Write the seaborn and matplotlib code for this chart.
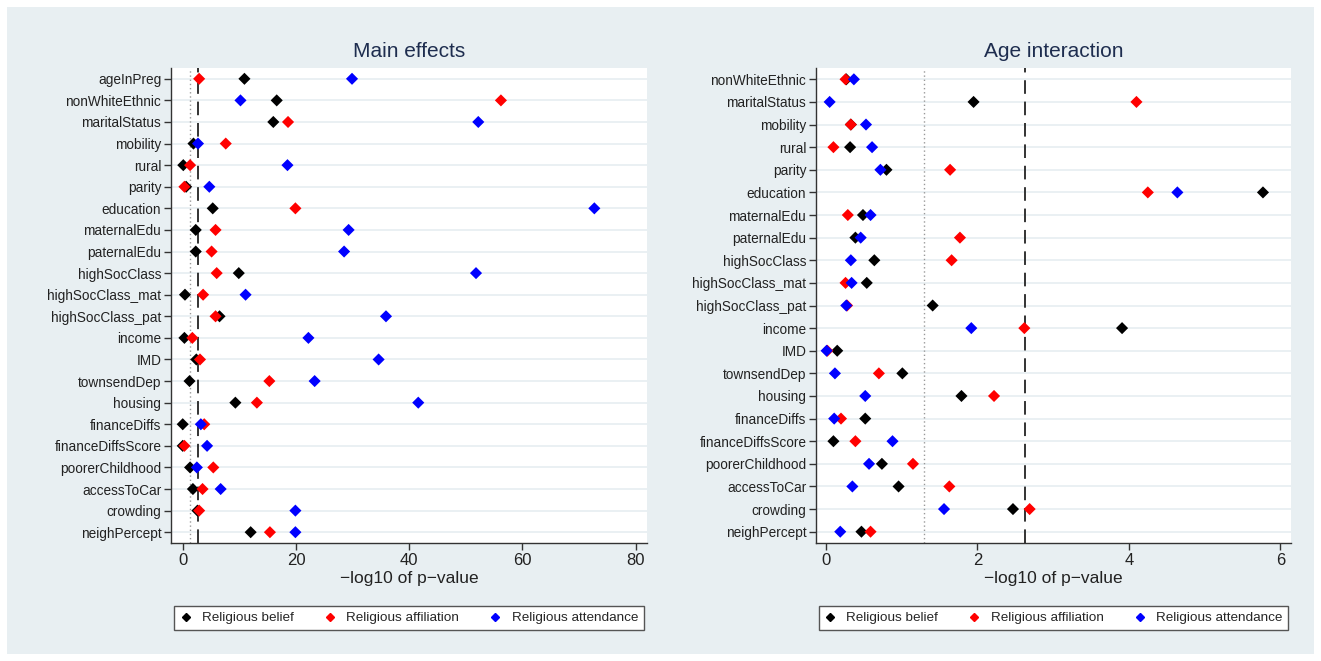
import numpy as np
import pandas as pd
import matplotlib
matplotlib.use("Agg")
import matplotlib.pyplot as plt
from matplotlib.lines import Line2D
from matplotlib.patches import Rectangle
import seaborn as sns

# ---------------- data ----------------
series_names = ["Religious belief", "Religious affiliation", "Religious attendance"]
series_colors = ["#000000", "#ff0000", "#0000ff"]

main_vars = ["ageInPreg", "nonWhiteEthnic", "maritalStatus", "mobility", "rural", "parity",
             "education", "maternalEdu", "paternalEdu", "highSocClass", "highSocClass_mat",
             "highSocClass_pat", "income", "IMD", "townsendDep", "housing", "financeDiffs",
             "financeDiffsScore", "poorerChildhood", "accessToCar", "crowding", "neighPercept"]
main_belief = [10.9, 16.6, 16.0, 1.9, 0.1, 0.6, 5.3, 2.3, 2.3, 9.9, 0.4, 6.5, 0.3, 2.4,
               1.2, 9.3, 0.0, 0.0, 1.3, 1.8, 2.6, 12.0]
main_affil = [2.9, 56.2, 18.6, 7.6, 1.3, 0.3, 19.9, 5.8, 5.1, 6.0, 3.6, 5.8, 1.7, 3.05,
              15.3, 13.1, 3.8, 0.3, 5.4, 3.5, 2.9, 15.4]
main_attend = [29.9, 10.2, 52.2, 2.7, 18.5, 4.7, 72.7, 29.3, 28.5, 51.8, 11.1, 35.9, 22.2, 34.6,
               23.3, 41.6, 3.2, 4.3, 2.5, 6.7, 19.9, 19.9]

age_vars = ["nonWhiteEthnic", "maritalStatus", "mobility", "rural", "parity", "education",
            "maternalEdu", "paternalEdu", "highSocClass", "highSocClass_mat", "highSocClass_pat",
            "income", "IMD", "townsendDep", "housing", "financeDiffs", "financeDiffsScore",
            "poorerChildhood", "accessToCar", "crowding", "neighPercept"]
age_belief = [0.27, 1.95, 0.33, 0.32, 0.80, 5.77, 0.49, 0.39, 0.64, 0.54, 1.41, 3.91, 0.15,
              1.01, 1.79, 0.52, 0.10, 0.74, 0.96, 2.47, 0.47]
age_affil = [0.26, 4.10, 0.33, 0.10, 1.64, 4.25, 0.29, 1.77, 1.66, 0.26, 0.28, 2.62, 0.02,
             0.70, 2.22, 0.20, 0.39, 1.15, 1.63, 2.69, 0.59]
age_attend = [0.37, 0.05, 0.53, 0.61, 0.72, 4.64, 0.59, 0.46, 0.33, 0.34, 0.27, 1.92, 0.01,
              0.12, 0.52, 0.11, 0.88, 0.57, 0.35, 1.56, 0.19]

main_xticks = [0, 20, 40, 60, 80]
age_xticks = [0, 2, 4, 6]
titles = ["Main effects", "Age interaction"]
xlabel_text = "\u2212log10 of p\u2212value"


def long_df(vars_, b, a, t):
    frames = []
    for name, vals in zip(series_names, [b, a, t]):
        frames.append(pd.DataFrame({"variable": vars_, "value": vals, "series": name}))
    return pd.concat(frames, ignore_index=True)


df_main = long_df(main_vars, main_belief, main_affil, main_attend)
df_age = long_df(age_vars, age_belief, age_affil, age_attend)

# ---------------- style ----------------
sns.set_theme(style="white")
plt.rcParams["font.family"] = ["Liberation Sans", "DejaVu Sans"]

W, H = 1321, 661
fig = plt.figure(figsize=(W / 100, H / 100), dpi=100, facecolor="white")
bg = "#e8eff2"
fig.patches.append(Rectangle((7 / W, 7 / H), 1 - 14 / W, 1 - 14 / H,
                             transform=fig.transFigure, facecolor=bg, edgecolor="none",
                             zorder=-10))

ax1 = fig.add_axes([171 / W, 1 - 543 / H, 476 / W, 475 / H])
ax2 = fig.add_axes([816 / W, 1 - 543 / H, 475 / W, 475 / H])

palette = dict(zip(series_names, series_colors))

panels = [
    (ax1, df_main, main_vars, main_xticks, (-2.07, 82.0), 22),
    (ax2, df_age, age_vars, age_xticks, (-0.13, 6.14), 21),
]

for (ax, df, vars_, xt, xl, ntests), title in zip(panels, titles):
    ax.set_facecolor("white")
    for i in range(len(vars_)):
        ax.axhline(i, color=bg, lw=1.3, zorder=0)
    ax.axvline(-np.log10(0.05), color="#999999", lw=1.0, ls=(0, (1, 2)), zorder=1)
    ax.axvline(-np.log10(0.05 / ntests), color="#333333", lw=1.4, ls=(0, (7, 4)), zorder=1)
    sns.scatterplot(data=df, x="value", y="variable", hue="series", palette=palette,
                    marker="D", s=38, linewidth=0, ax=ax, legend=False, zorder=3)
    ax.set_xlim(*xl)
    ax.set_ylim(len(vars_) - 0.5, -0.5)
    ax.set_xticks(xt)
    ax.set_xticklabels([str(v) for v in xt])
    ax.set_yticks(range(len(vars_)))
    ax.set_yticklabels(vars_)
    ax.tick_params(axis="y", which="both", length=5, width=1, color="#333333",
                   labelsize=9.8, labelcolor="#222222", pad=2, left=True)
    ax.tick_params(axis="x", which="both", length=5, width=1, color="#333333",
                   labelsize=12, labelcolor="#222222", pad=2, bottom=True)
    for sp in ["top", "right"]:
        ax.spines[sp].set_visible(False)
    for sp in ["left", "bottom"]:
        ax.spines[sp].set_color("#333333")
        ax.spines[sp].set_linewidth(1.0)
    ax.set_ylabel("")
    ax.set_xlabel(xlabel_text, fontsize=12.5, color="#222222", labelpad=2)
    ax.set_title(title, fontsize=15, color="#1e2d4f", pad=8)

    handles = [Line2D([], [], marker="D", color=c, ls="none", markersize=4.5)
               for c in series_colors]
    leg = ax.legend(handles, series_names, loc="upper center", bbox_to_anchor=(0.5, -0.118),
                    ncol=3, frameon=True, fancybox=False, fontsize=9.7, handlelength=0.8,
                    handletextpad=0.8, columnspacing=2.3, borderpad=0.45)
    leg.get_frame().set_edgecolor("#555555")
    leg.get_frame().set_linewidth(1.0)
    leg.get_frame().set_facecolor("white")
    leg.get_frame().set_alpha(1)

fig.savefig("out.png", dpi=100, facecolor="white")
